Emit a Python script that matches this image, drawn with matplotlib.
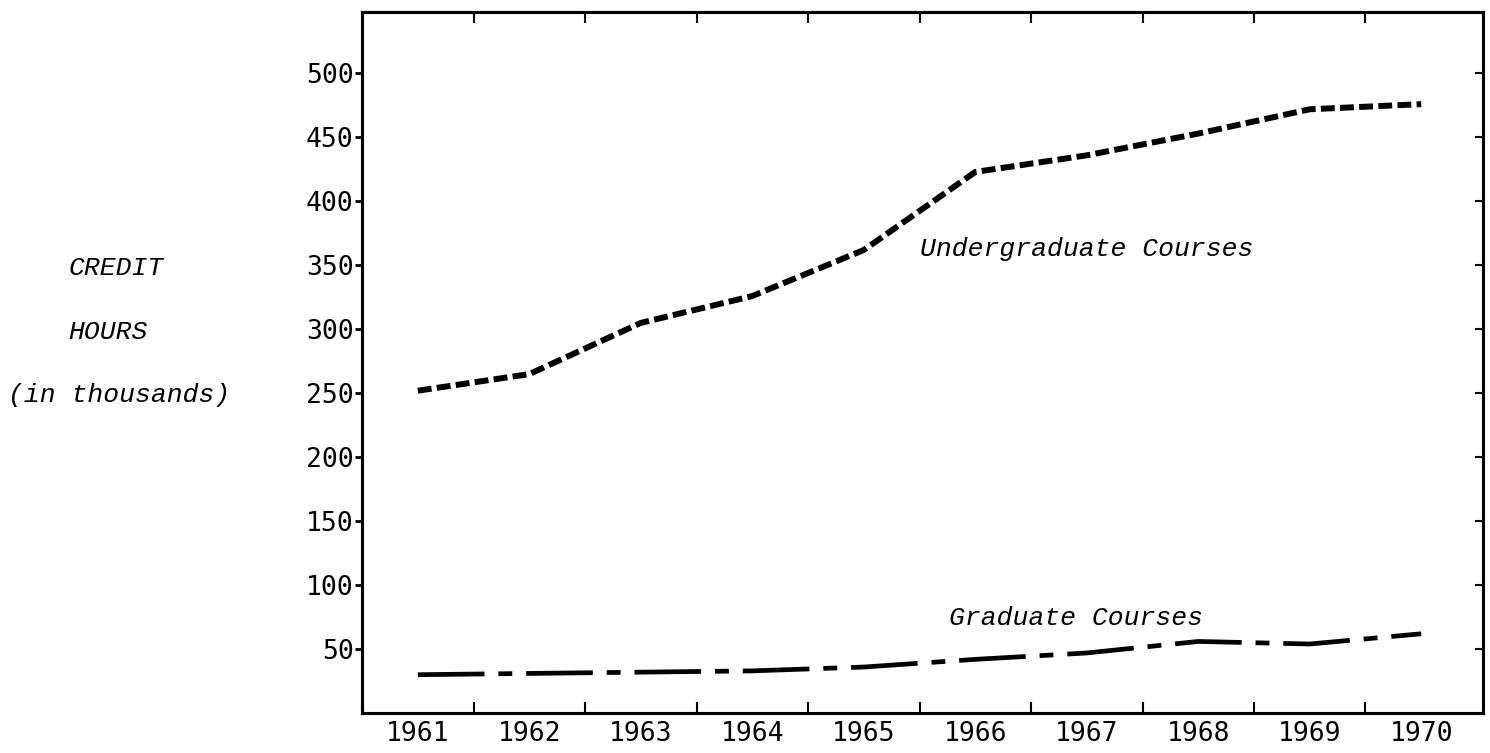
import matplotlib
matplotlib.use("Agg")
import matplotlib.pyplot as plt
from matplotlib.ticker import FixedLocator

# values (credit hours, thousands)
years = [1961, 1962, 1963, 1964, 1965, 1966, 1967, 1968, 1969, 1970]
undergrad = [252, 265, 305, 326, 362, 423, 436, 453, 472, 476]
graduate = [30, 31, 32, 33, 36, 42, 47, 56, 54, 62]
y_ticks = [50, 100, 150, 200, 250, 300, 350, 400, 450, 500]

plt.rcParams['lines.scale_dashes'] = False

fig = plt.figure(figsize=(14.9, 7.53), dpi=100)
ax = fig.add_axes([0.243, 0.053, 0.752, 0.931])

ax.plot(years, undergrad, color='black', lw=4.3, linestyle=(0, (10, 3.8)),
        dash_capstyle='butt')
ax.plot(years, graduate, color='black', lw=3.4,
        linestyle=(0, (48, 10, 10, 10)), dash_capstyle='butt')

ax.set_xlim(1960.5, 1970.55)
ax.set_ylim(0, 548)

mono_it = dict(family='Liberation Mono', style='italic', size=19)
ax.text(1965.5, 363, "Undergraduate Courses", va='center', ha='left', **mono_it)
ax.text(1965.76, 74, "Graduate Courses", va='center', ha='left', **mono_it)

# y label block on the left, set as three lines of typewriter text
fig.text(68 / 1490, 1 - 268 / 753, "CREDIT", va='center', ha='left', **mono_it)
fig.text(68 / 1490, 1 - 332 / 753, "HOURS", va='center', ha='left', **mono_it)
fig.text(8 / 1490, 1 - 395 / 753, "(in thousands)", va='center', ha='left', **mono_it)

# year labels sit between the tick marks
ax.set_xticks(years)
ax.set_xticklabels([str(y) for y in years], family='DejaVu Sans Mono', size=19)
ax.tick_params(axis='x', which='major', length=0, pad=6)
ax.xaxis.set_minor_locator(FixedLocator([y + 0.5 for y in years[:-1]]))
ax.tick_params(axis='x', which='minor', direction='in', length=8, width=1.5,
               top=True, bottom=True)

ax.set_yticks(y_ticks)
ax.set_yticklabels([str(v) for v in y_ticks], family='DejaVu Sans Mono', size=19)
ax.tick_params(axis='y', which='major', direction='out', length=5, width=2, pad=1)

# inward ticks on the right side
ax2 = ax.twinx()
ax2.set_ylim(ax.get_ylim())
ax2.set_yticks(y_ticks)
ax2.set_yticklabels([])
ax2.tick_params(axis='y', direction='in', length=6, width=1.5)

for a in (ax, ax2):
    for s in a.spines.values():
        s.set_linewidth(2.2)

fig.savefig("out.png", dpi=100, facecolor='white')
